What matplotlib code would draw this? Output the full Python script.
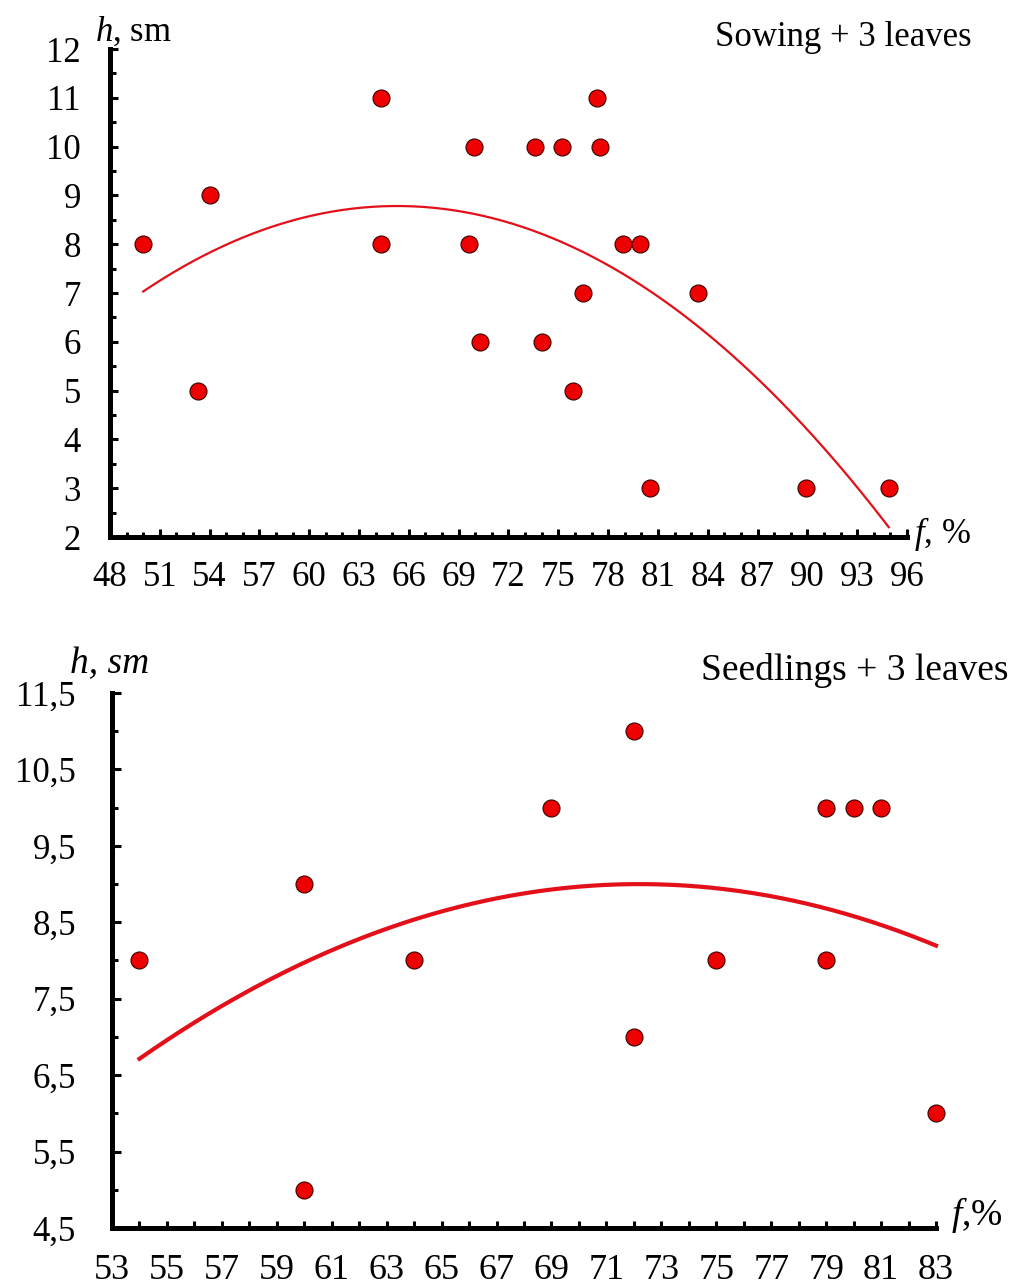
import numpy as np
import matplotlib
matplotlib.use("Agg")
import matplotlib.pyplot as plt
from matplotlib.ticker import MultipleLocator, FixedLocator

plt.rcParams['font.family'] = ['Liberation Serif', 'DejaVu Serif']
plt.rcParams['mathtext.fontset'] = 'custom'
plt.rcParams['mathtext.rm'] = 'Liberation Serif'
plt.rcParams['mathtext.it'] = 'Liberation Serif:italic'

# ---------------- data ----------------
sowing_f = [50.0, 53.3, 54.0, 64.3, 64.3, 69.65, 69.9, 70.3, 73.6, 74.0, 75.2,
            75.9, 76.5, 77.3, 77.5, 78.9, 79.9, 80.5, 83.4, 89.9, 94.9]
sowing_h = [8, 5, 9, 11, 8, 8, 10, 6, 10, 6, 10,
            5, 7, 11, 10, 8, 8, 3, 7, 3, 3]

seedlings_f = [54, 60, 60, 64, 69, 72, 72, 75, 79, 79, 80, 81, 83]
seedlings_h = [8, 9, 5, 8, 10, 11, 7, 8, 10, 8, 10, 10, 6]
# quadratic trend coefficients (a, b, c) of the lower panel
seedlings_trend = [-0.0069, 0.99636, -26.969]

top_xticks = list(range(48, 97, 3))
top_yticks = list(range(2, 13))
bot_xticks = list(range(53, 84, 2))
bot_yticks = [4.5, 5.5, 6.5, 7.5, 8.5, 9.5, 10.5, 11.5]
bot_yticklabels = ['4,5', '5,5', '6,5', '7,5', '8,5', '9,5', '10,5', '11,5']

top_title = 'Sowing + 3 leaves'
bot_title = 'Seedlings + 3 leaves'

# ---------------- figure ----------------
W, H = 1013, 1287
fig = plt.figure(figsize=(W / 100, H / 100), dpi=100)
fig.patch.set_facecolor('white')


def px_axes(x0, x1, ytop, ybot):
    return fig.add_axes([x0 / W, 1 - ybot / H, (x1 - x0) / W, (ybot - ytop) / H])


dot_face = '#ee0000'
dot_edge = '#3a0000'
line_col = '#e3101a'


def style_axes(ax, ylabpad, xlabpad, xmaj, xmin, ymaj, ymin, xfs, yfs):
    for s in ['top', 'right']:
        ax.spines[s].set_visible(False)
    for s in ['left', 'bottom']:
        ax.spines[s].set_linewidth(3.6)
        ax.spines[s].set_color('black')
        ax.spines[s].set_capstyle('projecting')
    ax.tick_params(axis='x', which='major', direction='in', length=xmaj, width=2.2,
                   pad=xlabpad, labelsize=xfs, top=False)
    ax.tick_params(axis='x', which='minor', direction='in', length=xmin, width=2.2, top=False)
    ax.tick_params(axis='y', which='major', direction='in', length=ymaj, width=2.2,
                   pad=ylabpad, labelsize=yfs, right=False)
    ax.tick_params(axis='y', which='minor', direction='in', length=ymin, width=2.2, right=False)
    ax.set_facecolor('none')


# ---- top panel ----
ax1 = px_axes(110, 907, 49, 537)
ax1.set_xlim(48, 96)
ax1.set_ylim(2, 12)
ax1.xaxis.set_major_locator(FixedLocator(top_xticks))
ax1.xaxis.set_minor_locator(MultipleLocator(1))
ax1.yaxis.set_major_locator(FixedLocator(top_yticks))
ax1.yaxis.set_minor_locator(MultipleLocator(0.5))
style_axes(ax1, 21, 17, 6.0, 3.6, 5.8, 4.3, 25, 25)

c1 = np.polyfit(sowing_f, sowing_h, 2)
xf1 = np.linspace(min(sowing_f), max(sowing_f), 300)
ax1.plot(xf1, np.polyval(c1, xf1), color=line_col, lw=1.6, zorder=2, clip_on=False)
ax1.scatter(sowing_f, sowing_h, s=150, c=dot_face, edgecolors=dot_edge,
            linewidths=0.8, zorder=3, clip_on=False)

# ---- bottom panel ----
ax2 = px_axes(112, 936, 693, 1228)
ax2.set_xlim(53, 83)
ax2.set_ylim(4.5, 11.5)
ax2.xaxis.set_major_locator(FixedLocator(bot_xticks))
ax2.xaxis.set_minor_locator(MultipleLocator(1))
ax2.yaxis.set_major_locator(FixedLocator(bot_yticks))
ax2.yaxis.set_major_formatter(plt.FixedFormatter(bot_yticklabels))
ax2.yaxis.set_minor_locator(MultipleLocator(0.5))
style_axes(ax2, 26, 19, 5.0, 5.0, 6.5, 4.3, 26, 25)

xf2 = np.linspace(min(seedlings_f), max(seedlings_f), 300)
ax2.plot(xf2, np.polyval(seedlings_trend, xf2), color=line_col, lw=3.0, zorder=2,
         clip_on=False)
ax2.scatter(seedlings_f, seedlings_h, s=150, c=dot_face, edgecolors=dot_edge,
            linewidths=0.8, zorder=3, clip_on=False)

# ---- texts ----
def ftext(x, y, s, **kw):
    fig.text(x / W, 1 - y / H, s, **kw)

ftext(95, 41, r'$\mathit{h}$, sm', fontsize=25, ha='left', va='baseline')
ftext(914, 543, r'$\mathit{f}$, %', fontsize=25, ha='left', va='baseline')
ftext(972, 46, top_title, fontsize=25, ha='right', va='baseline')

ftext(70, 673, 'h, sm', fontsize=27, style='italic', ha='left', va='baseline')
ftext(951, 1225, r'$\mathit{f}$,%', fontsize=27, ha='left', va='baseline')
ftext(1008, 680, bot_title, fontsize=27, ha='right', va='baseline')

fig.savefig('out.png', dpi=100, facecolor='white')
